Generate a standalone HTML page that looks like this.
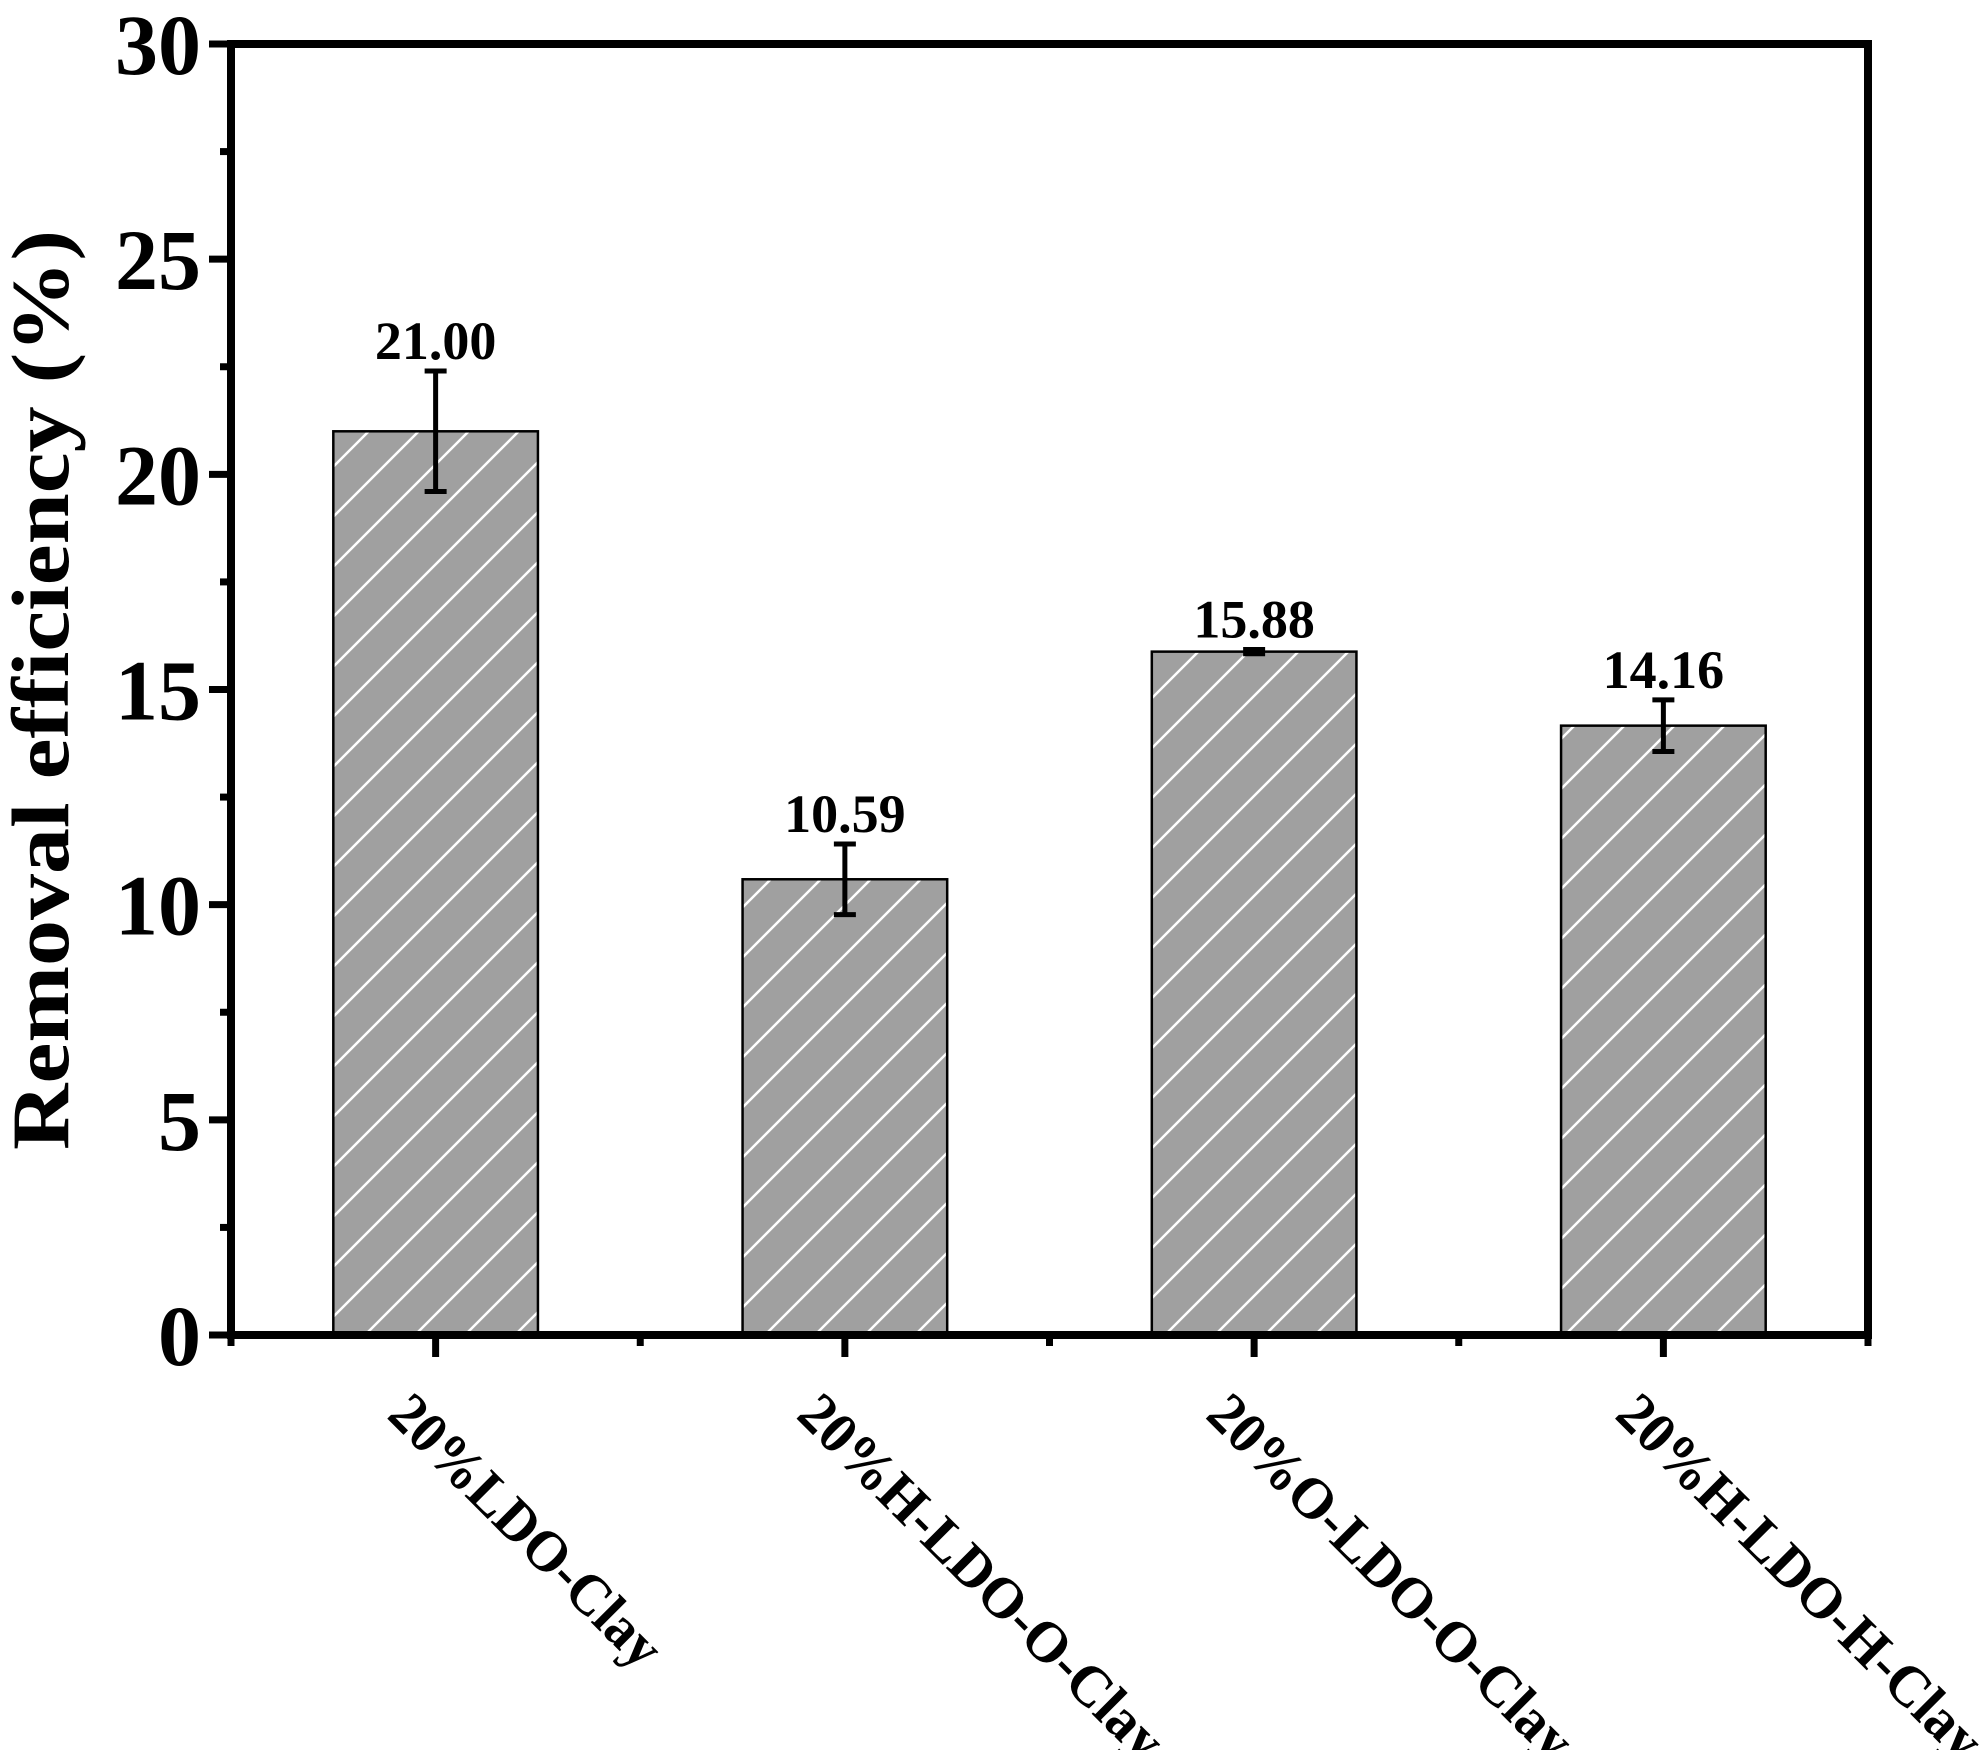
<!DOCTYPE html>
<html><head><meta charset="utf-8"><style>
html,body{margin:0;padding:0;background:#fff;}
svg{display:block;}
text{font-family:"Liberation Serif","Times New Roman",serif;font-weight:bold;fill:#000;}
</style></head>
<body>
<svg id="chart" width="1980" height="1750" viewBox="0 0 1980 1750" xmlns="http://www.w3.org/2000/svg">
<defs>
<pattern id="hatch" patternUnits="userSpaceOnUse" width="50" height="50">
<rect width="50" height="50" fill="#a0a0a0"/>
<path d="M-5,5 L5,-5 M0,50 L50,0 M45,55 L55,45" stroke="#fff" stroke-width="2.5"/>
</pattern>
</defs>
<g id="marks"></g>
<g id="axes"></g>
<text transform="translate(68,690) rotate(-90)" text-anchor="middle" font-size="82" textLength="920" lengthAdjust="spacingAndGlyphs">Removal efficiency (%)</text>
</svg>
<script>
const categories = ["20%LDO-Clay","20%H-LDO-O-Clay","20%O-LDO-O-Clay","20%H-LDO-H-Clay"];
const values = [21.00, 10.59, 15.88, 14.16];
const errors = [1.4, 0.82, 0.05, 0.6];
const valueLabels = ["21.00","10.59","15.88","14.16"];
const yTicks = [0,5,10,15,20,25,30];

const NS = "http://www.w3.org/2000/svg";
const L=231, R=1868, T=44, B=1335, yMax=30;
const band=(R-L)/categories.length;
const y = v => B - (v/yMax)*(B-T);
const xc = i => L + band*(i+0.5);
const marks=document.getElementById('marks'), axes=document.getElementById('axes');
function mk(tag, attrs, parent){const e=document.createElementNS(NS,tag);for(const k in attrs)e.setAttribute(k,attrs[k]);parent.appendChild(e);return e;}

categories.forEach((c,i)=>{
  const bw=band*0.5, x0=xc(i)-bw/2;
  const r=mk('rect',{x:x0,y:y(values[i]),width:bw,height:B-y(values[i]),fill:'url(#hatch)',stroke:'#000','stroke-width':2.5},marks);
  
  
  const top=y(values[i]+errors[i]), bot=y(values[i]-errors[i]);
  const g=mk('g',{stroke:'#000','stroke-width':5},marks);
  
  
  mk('line',{x1:xc(i),x2:xc(i),y1:top,y2:bot},g);
  mk('line',{x1:xc(i)-11,x2:xc(i)+11,y1:top,y2:top},g);
  mk('line',{x1:xc(i)-11,x2:xc(i)+11,y1:bot,y2:bot},g);
  const t=mk('text',{x:xc(i),y:top-12,'text-anchor':'middle','font-size':54},marks);
  t.textContent=valueLabels[i];
  
  
  const xl=mk('text',{'font-size':58,textLength:c.length*32.7,lengthAdjust:'spacingAndGlyphs',transform:`translate(${xc(i)-50},${B+82}) rotate(45)`},marks);
  xl.textContent=c;
  
  
});

const f=mk('rect',{x:L,y:T,width:R-L,height:B-T,fill:'none',stroke:'#000','stroke-width':8},axes);


yTicks.forEach(v=>{
  mk('line',{x1:L-22,x2:L,y1:y(v),y2:y(v),stroke:'#000','stroke-width':7},axes);
  const t=mk('text',{x:L-30,y:y(v)+30,'text-anchor':'end','font-size':86},axes);
  t.textContent=v;
  
  
});
for(let v=2.5; v<yMax; v+=5){
  mk('line',{x1:L-11,x2:L,y1:y(v),y2:y(v),stroke:'#000','stroke-width':7},axes);
}
categories.forEach((c,i)=>{
  mk('line',{x1:xc(i),x2:xc(i),y1:B,y2:B+22,stroke:'#000','stroke-width':7},axes);
});
for(let i=0;i<=categories.length;i++){
  const x=L+band*i;
  mk('line',{x1:x,x2:x,y1:B,y2:B+11,stroke:'#000','stroke-width':7},axes);
}
</script>
</body></html>
